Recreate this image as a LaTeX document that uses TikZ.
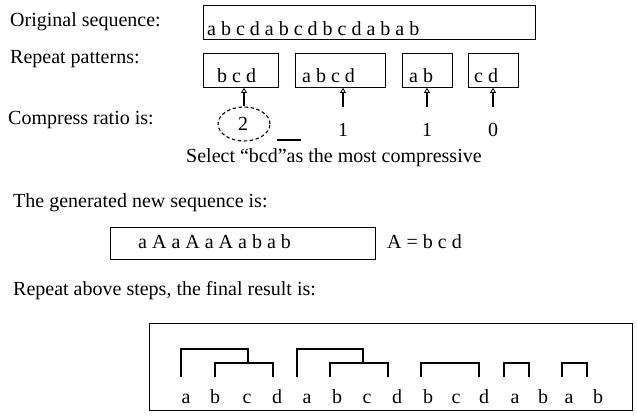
\documentclass[tikz,border=0pt]{standalone}
\usepackage{fontspec}
\setmainfont{Liberation Serif}
\usetikzlibrary{arrows.meta,shapes.geometric}
\begin{document}
\begin{tikzpicture}[x=1pt,y=-1pt,
  txt/.style={anchor=base west, inner sep=0pt, font=\fontsize{20}{24}\selectfont},
  ctxt/.style={anchor=base, inner sep=0pt, font=\fontsize{20}{24}\selectfont},
  seqbox/.style={draw, line width=0.9pt, inner sep=0pt, anchor=north west},
  uparrow/.style={line width=1.6pt, -{Triangle[open,length=5pt,width=6pt,line width=0.8pt]}},
  bracket/.style={line width=1.6pt}]
\useasboundingbox (0,0) rectangle (637,419);

% first row: the original sequence
\node[txt] (lorig) at (10,27) {Original sequence:};
\node[seqbox, minimum width=332pt, minimum height=34pt] (orig) at (203,5) {};
\node[txt] (sorig) at (207,36) {a b c d a b c d b c d a b a b};

% second row: candidate patterns
\node[txt] (lrep) at (10,64) {Repeat patterns:};
\node[seqbox, minimum width=75pt, minimum height=34pt] (p1) at (203,53) {};
\node[seqbox, minimum width=90pt, minimum height=34pt] (p2) at (295,53) {};
\node[seqbox, minimum width=50pt, minimum height=34pt] (p3) at (402,53) {};
\node[seqbox, minimum width=50pt, minimum height=34pt] (p4) at (468,53) {};
\node[txt] (t1) at (217,83) {b c d};
\node[txt] (t2) at (302,83) {a b c d};
\node[txt] (t3) at (409,83) {a b};
\node[txt] (t4) at (474,83) {c d};

% third row: compress ratios
\node[txt] (lcomp) at (8,125) {Compress ratio is:};
\node[ellipse, draw, dashed, dash pattern=on 3.5pt off 2.5pt, line width=1.1pt,
      minimum width=52pt, minimum height=34pt, inner sep=0pt] (r1) at (244,124) {};
\node[ctxt] (n1) at (243,131) {2};
\node[ctxt] (n2) at (343,137) {1};
\node[ctxt] (n3) at (427,137) {1};
\node[ctxt] (n4) at (493,137) {0};
\coordinate (u1) at (277,140);
\coordinate (u2) at (301,140);
\draw[line width=1.6pt] (u1) -- (u2);

\coordinate (a2) at (343,107);
\coordinate (a3) at (427,107);
\coordinate (a4) at (493,107);
\draw[uparrow] (r1.north) -- (r1.north |- p1.south);
\draw[uparrow] (a2) -- (a2 |- p2.south);
\draw[uparrow] (a3) -- (a3 |- p3.south);
\draw[uparrow] (a4) -- (a4 |- p4.south);

\node[txt] (sel) at (186,163) {Select “bcd”as the most compressive};

% the rewritten sequence
\node[txt] (lgen) at (13,208) {The generated new sequence is:};
\node[seqbox, minimum width=265pt, minimum height=32pt] (gen) at (110,227) {};
\node[txt] (sgen) at (138,249) {a A a A a A a b a b};
\node[txt] (def) at (387,249) {A = b c d};

% final hierarchical result
\node[txt] (lfin) at (13,296) {Repeat above steps, the final result is:};
\node[seqbox, minimum width=483pt, minimum height=87pt] (fin) at (149,323) {};
\foreach \ch/\px [count=\i] in {a/186,b/215,c/247,d/277,a/307,b/337,c/367,d/397,b/428,c/456,d/484,a/515,b/543,a/569,b/598}
  \node[ctxt] (l\i) at (\px,403) {\ch};

\draw[bracket] (181,377) -- (181,349) -- (248,349) -- (248,363);
\draw[bracket] (215,377) -- (215,363) -- (273,363) -- (273,377);
\draw[bracket] (297,377) -- (297,349) -- (363,349) -- (363,363);
\draw[bracket] (330,377) -- (330,363) -- (388,363) -- (388,377);
\draw[bracket] (421,377) -- (421,363) -- (479,363) -- (479,377);
\draw[bracket] (504,377) -- (504,363) -- (529,363) -- (529,377);
\draw[bracket] (562,377) -- (562,363) -- (587,363) -- (587,377);
\end{tikzpicture}
\end{document}
